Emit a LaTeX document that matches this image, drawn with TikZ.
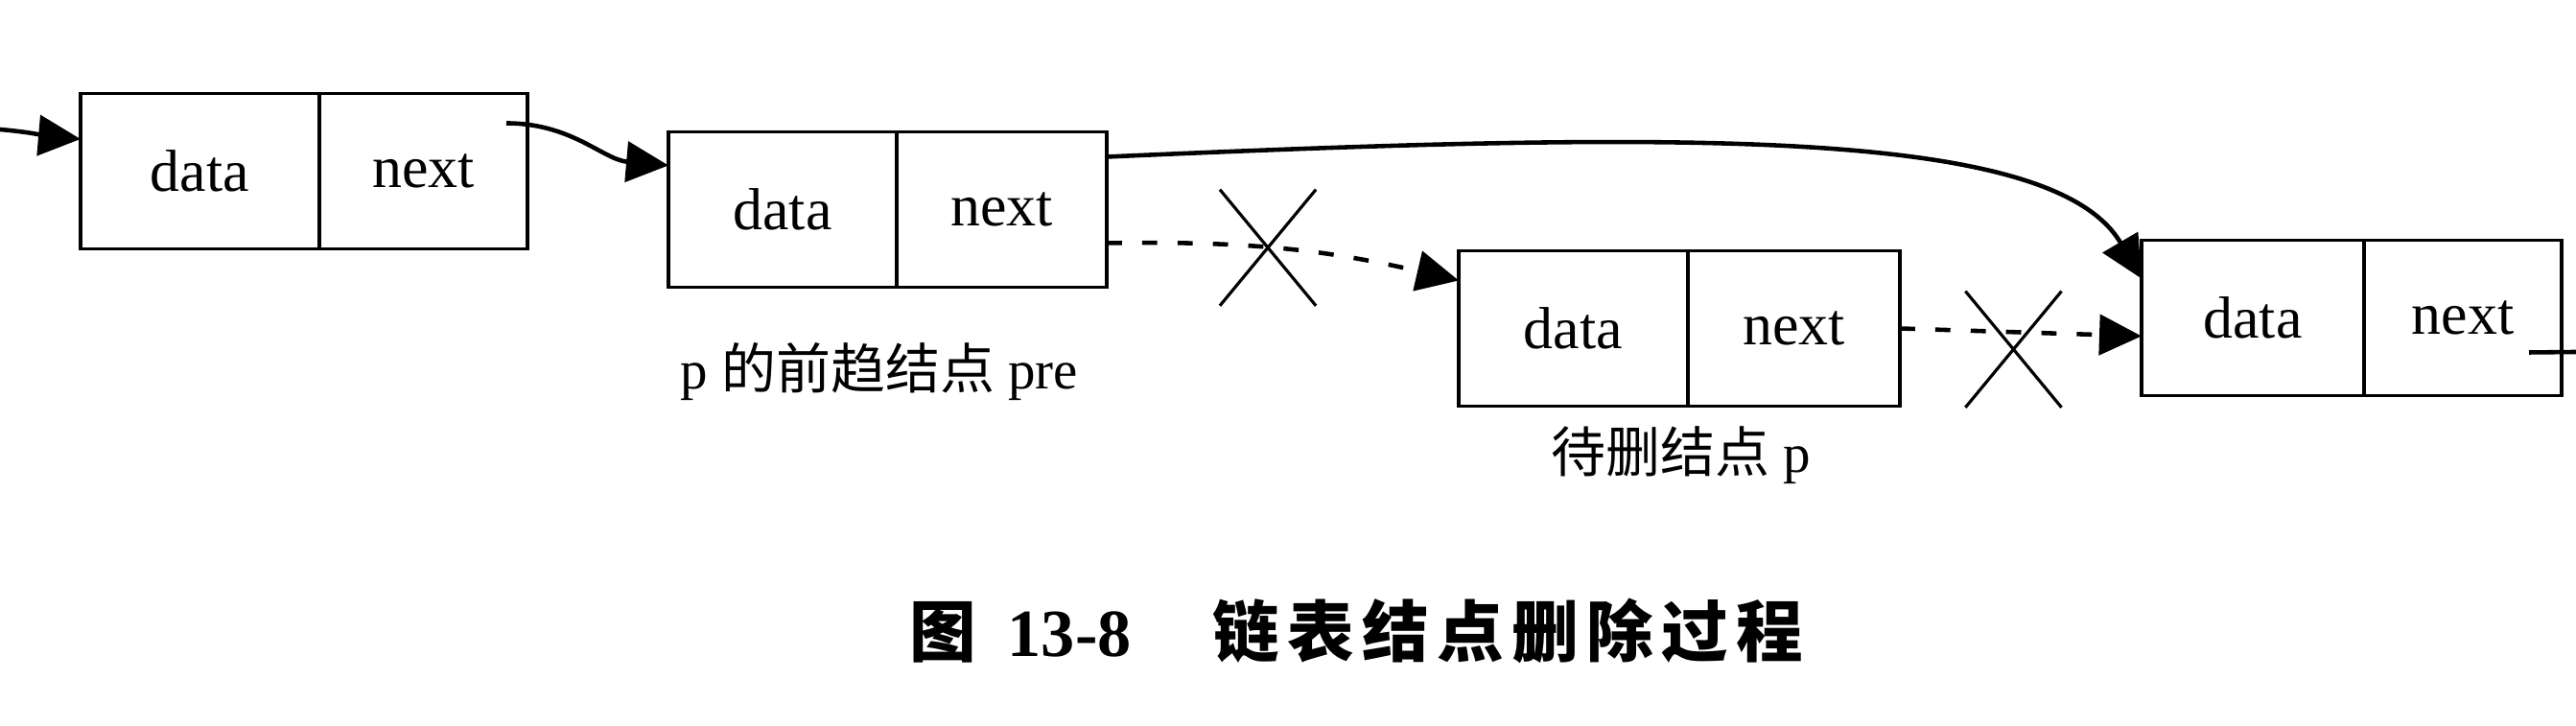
\documentclass[tikz,border=0pt]{standalone}
\usepackage{fontspec}
\setmainfont{Liberation Serif}
\newfontfamily\cjk{Noto Sans CJK SC}
\newfontfamily\cjkcap[LetterSpace=12]{Noto Sans CJK SC}
\usetikzlibrary{positioning,arrows.meta,shapes.misc}

\tikzset{
  cell/.style={draw, line width=1.1pt, minimum height=16.2mm, inner sep=0pt, outer sep=0pt,
    font=\fontsize{17.6}{20}\selectfont},
  link/.style={line width=1.3pt},
  dashlink/.style={link, dash pattern=on 4.5pt off 6pt},
  crossmark/.style={cross out, draw, solid, line width=0.9pt, inner sep=0pt,
    minimum width=9.7mm, minimum height=11.8mm},
  notetext/.style={font=\fontsize{16.2}{18}\selectfont},
}

\begin{document}
\begin{tikzpicture}[>={Triangle[length=4.4mm,width=4.2mm]}]
\useasboundingbox (0,0) rectangle (26.86,7.57);
    % list nodes: data cell at a coordinate, next cell glued to its right
    \foreach \n/\x/\y/\dw/\nw in {1/2.085/5.785/2.49/2.17, 2/8.16/5.385/2.38/2.19,
        3/16.405/4.145/2.39/2.21, 4/23.49/4.255/2.32/2.06}
    {
        \node[cell, minimum width=\dw cm] (d\n) at (\x,\y) {data};
        \node[cell, minimum width=\nw cm, right=0pt of d\n] (n\n) {next};
    }
    \node[notetext] (prelabel) at (9.17,3.69) {p {\cjk 的前趋结点} pre};
    \node[notetext] (plabel) at (17.53,2.82) {{\cjk 待删结点} p};
    \node (caption) at (14.14,0.99) {\bfseries{\fontsize{19.8}{22}\selectfont\cjkcap 图}\hspace{0.33cm}{\fontsize{20}{22}\selectfont 13-8}\hspace{0.85cm}{\fontsize{19.8}{22}\selectfont\cjkcap 链表结点删除过程}};
    \coordinate (head) at (0,6.22);
    \coordinate (tail) at (26.86,3.9);
    % old links
    \draw[link,->] (head) to[out=-5,in=175] ([yshift=3.35mm]d1.west);
    \draw[link,->] ([xshift=-2.2mm,yshift=5mm]n1.east) to[out=0,in=175] ([yshift=4.6mm]d2.west);
    \draw[dashlink,->] ([yshift=-3.5mm]n2.east) to[bend left=7] node[crossmark, pos=0.45] (cut1) {} ([yshift=5mm]d3.west);
    \draw[dashlink,->] (n3.east) to node[crossmark, pos=0.47, yshift=-1.8mm] (cut2) {} ([yshift=-1.9mm]d4.west);
    \draw[link] ([xshift=-3.4mm,yshift=-3.6mm]n4.east) -- (tail);
    % new link pre -> p->next
    \draw[link,->] ([yshift=5.5mm]n2.east) .. controls (17.5,6.2) and (21.4,6.25) .. ([yshift=4.1mm]d4.west);
\end{tikzpicture}
\end{document}
